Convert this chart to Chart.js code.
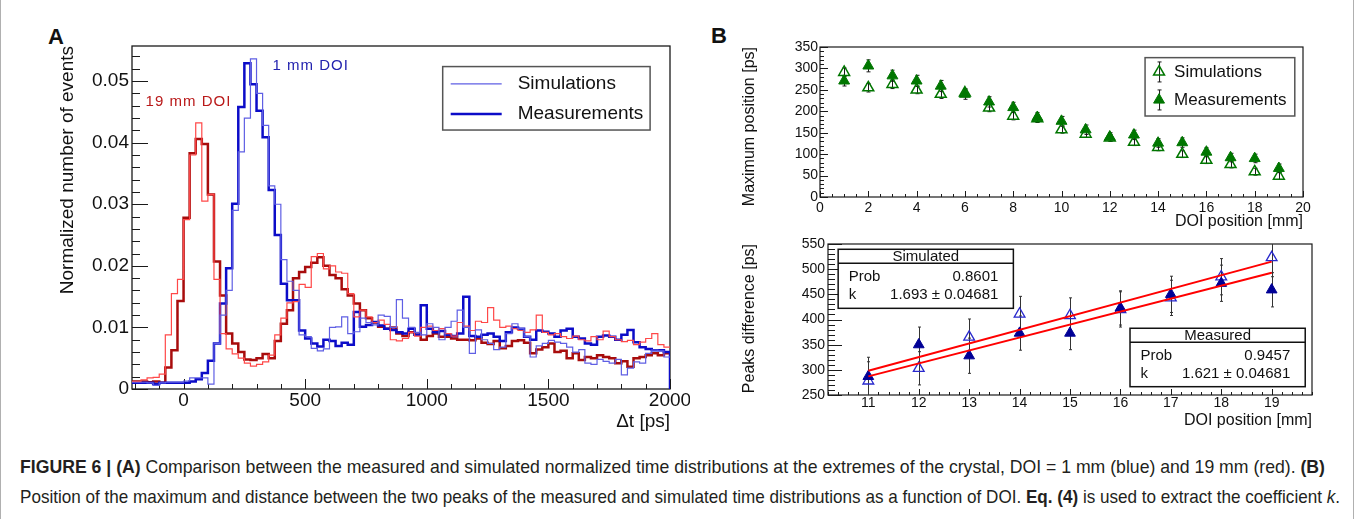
<!DOCTYPE html>
<html>
<head>
<meta charset="utf-8">
<script src="https://cdn.jsdelivr.net/npm/chart.js@4.4.1/dist/chart.umd.min.js"></script>
<style>
  html, body { margin: 0; padding: 0; background: #fff; }
  #page { position: relative; width: 1354px; height: 519px; overflow: hidden; background: #fff;
          font-family: "Liberation Sans", Arial, sans-serif; color: #111; }
  .edge { position: absolute; top: 0; width: 1px; height: 519px; background: #b0b0b0; }
  canvas { position: absolute; }
  .panel { position: absolute; font-weight: bold; font-size: 22px; line-height: 22px; }
  .cap { position: absolute; left: 20px; white-space: nowrap; font-size: 18.5px; line-height: 20px;
         transform-origin: 0 50%; color: #231f20; }
</style>
</head>
<body>
<div id="page">
  <div class="edge" style="left:0"></div>
  <div class="edge" style="left:1353px"></div>
  <div class="panel" style="left:48px;top:26px">A</div>
  <div class="panel" style="left:711px;top:25px">B</div>
  <canvas id="histA" width="650" height="420" style="left:40px;top:20px;width:650px;height:420px"></canvas>
  <canvas id="maxB" width="640" height="215" style="left:700px;top:20px;width:640px;height:215px"></canvas>
  <canvas id="diffB" width="640" height="205" style="left:700px;top:232px;width:640px;height:205px"></canvas>
  <div class="cap" data-w="1305" style="top:457px"><b>FIGURE 6 | (A)</b> Comparison between the measured and simulated normalized time distributions at the extremes of the crystal, DOI = 1 mm (blue) and 19 mm (red). <b>(B)</b></div>
  <div class="cap" data-w="1320" style="top:487px">Position of the maximum and distance between the two peaks of the measured and simulated time distributions as a function of DOI. <b>Eq. (4)</b> is used to extract the coefficient <i>k</i>.</div>
</div>
<script>
// ---- panel A: time distributions, 25 ps bins starting at -225 ps ----
const BIN_START = -225;
const BIN_WIDTH = 25;
const AXIS_END = 2000;
const ticksA_x = [0, 500, 1000, 1500, 2000];
const ticksA_y = [0, 0.01, 0.02, 0.03, 0.04, 0.05];

const measured19 = [0.0012, 0.0012, 0.0012, 0.0011, 0.0012, 0.0010, 0.0035, 0.0063, 0.0143, 0.0278,
  0.0383, 0.0406, 0.0398, 0.0316, 0.0207, 0.0152, 0.0090, 0.0074, 0.0060, 0.0048,
  0.0047, 0.0050, 0.0057, 0.0050, 0.0078, 0.0106, 0.0128, 0.0180, 0.0190, 0.0198,
  0.0205, 0.0214, 0.0200, 0.0185, 0.0180, 0.0162, 0.0152, 0.0139, 0.0128, 0.0115,
  0.0108, 0.0101, 0.0098, 0.0100, 0.0090, 0.0086, 0.0092, 0.0088, 0.0080, 0.0086,
  0.0090, 0.0085, 0.0085, 0.0082, 0.0080, 0.0080, 0.0079, 0.0082, 0.0075, 0.0073,
  0.0078, 0.0066, 0.0070, 0.0078, 0.0079, 0.0075, 0.0058, 0.0064, 0.0068, 0.0074,
  0.0060, 0.0062, 0.0050, 0.0058, 0.0047, 0.0052, 0.0050, 0.0055, 0.0052, 0.0050,
  0.0042, 0.0045, 0.0036, 0.0050, 0.0052, 0.0055, 0.0058, 0.0055, 0.0058];
const simulated19 = [0.0012, 0.0012, 0.0015, 0.0018, 0.0019, 0.0024, 0.0088, 0.0155, 0.0178, 0.0275,
  0.0380, 0.0432, 0.0305, 0.0316, 0.0178, 0.0090, 0.0065, 0.0057, 0.0050, 0.0042,
  0.0037, 0.0040, 0.0044, 0.0055, 0.0088, 0.0115, 0.0140, 0.0142, 0.0170, 0.0165,
  0.0215, 0.0220, 0.0195, 0.0200, 0.0190, 0.0188, 0.0155, 0.0117, 0.0128, 0.0117,
  0.0108, 0.0112, 0.0105, 0.0080, 0.0078, 0.0082, 0.0092, 0.0086, 0.0100, 0.0102,
  0.0095, 0.0098, 0.0090, 0.0086, 0.0108, 0.0102, 0.0095, 0.0110, 0.0108, 0.0132,
  0.0112, 0.0100, 0.0102, 0.0098, 0.0095, 0.0092, 0.0096, 0.0120, 0.0092, 0.0088,
  0.0090, 0.0085, 0.0082, 0.0086, 0.0080, 0.0078, 0.0085, 0.0080, 0.0094, 0.0085,
  0.0080, 0.0077, 0.0079, 0.0072, 0.0076, 0.0082, 0.0090, 0.0072, 0.0068];
const measured1 = [0.0010, 0.0010, 0.0010, 0.0010, 0.0008, 0.0010, 0.0010, 0.0010, 0.0010, 0.0010,
  0.0012, 0.0016, 0.0026, 0.0046, 0.0074, 0.0139, 0.0196, 0.0301, 0.0458, 0.0529,
  0.0495, 0.0452, 0.0409, 0.0323, 0.0250, 0.0171, 0.0144, 0.0144, 0.0095, 0.0082,
  0.0074, 0.0069, 0.0080, 0.0078, 0.0070, 0.0075, 0.0072, 0.0125, 0.0101, 0.0104,
  0.0109, 0.0103, 0.0098, 0.0096, 0.0092, 0.0090, 0.0098, 0.0088, 0.0136, 0.0098,
  0.0092, 0.0094, 0.0088, 0.0086, 0.0090, 0.0150, 0.0086, 0.0085, 0.0088, 0.0090,
  0.0085, 0.0078, 0.0092, 0.0100, 0.0098, 0.0085, 0.0080, 0.0095, 0.0093, 0.0090,
  0.0085, 0.0095, 0.0098, 0.0085, 0.0082, 0.0074, 0.0072, 0.0085, 0.0087, 0.0085,
  0.0080, 0.0088, 0.0096, 0.0076, 0.0068, 0.0065, 0.0063, 0.0063, 0.0060];
const simulated1 = [0.0011, 0.0011, 0.0011, 0.0010, 0.0006, 0.0010, 0.0011, 0.0011, 0.0011, 0.0013,
  0.0018, 0.0018, 0.0018, 0.0008, 0.0074, 0.0120, 0.0160, 0.0290, 0.0385, 0.0440,
  0.0536, 0.0480, 0.0428, 0.0330, 0.0300, 0.0210, 0.0175, 0.0160, 0.0088, 0.0085,
  0.0066, 0.0062, 0.0065, 0.0100, 0.0101, 0.0117, 0.0090, 0.0093, 0.0115, 0.0108,
  0.0104, 0.0120, 0.0118, 0.0100, 0.0145, 0.0115, 0.0100, 0.0092, 0.0088, 0.0106,
  0.0100, 0.0080, 0.0100, 0.0110, 0.0128, 0.0100, 0.0058, 0.0096, 0.0080, 0.0074,
  0.0064, 0.0068, 0.0090, 0.0106, 0.0098, 0.0085, 0.0052, 0.0070, 0.0074, 0.0079,
  0.0076, 0.0074, 0.0068, 0.0060, 0.0064, 0.0042, 0.0040, 0.0048, 0.0045, 0.0042,
  0.0048, 0.0023, 0.0034, 0.0044, 0.0042, 0.0058, 0.0063, 0.0062, 0.0052];

// ---- panel B top: position of the maximum ----
const doiTop = [1, 2, 3, 4, 5, 6, 7, 8, 9, 10, 11, 12, 13, 14, 15, 16, 17, 18, 19];
const maxSim = [291, 255, 263, 250, 240, 243, 208, 189, 183, 157, 147, 138, 128, 116, 100, 86, 76, 59, 49];
const maxMeas = [271, 306, 283, 271, 259, 240, 222, 209, 186, 177, 157, 140, 145, 126, 127, 105, 92, 90, 67];
const maxSimErr = [10, 10, 10, 9, 10, 9, 9, 9, 9, 8, 8, 8, 8, 8, 8, 8, 8, 8, 8];
const maxMeasErr = [12, 14, 13, 13, 13, 12, 12, 12, 11, 11, 11, 10, 11, 10, 11, 10, 10, 10, 10];

// ---- panel B bottom: peaks difference ----
const doiBottom = [11, 12, 13, 14, 15, 16, 17, 18, 19];
const peakSim = [278, 303, 365, 411, 408, 420, 443, 485, 523];
const peakMeas = [287, 350, 328, 373, 373, 423, 450, 472, 459];
const peakSimErr = [38, 33, 36, 35, 35, 35, 35, 36, 38];
const peakMeasErr = [38, 35, 35, 34, 33, 34, 36, 36, 34];
const fitSim = [{x: 11, y: 298}, {x: 19, y: 515}];
const fitMeas = [{x: 11, y: 287}, {x: 19, y: 493}];
const statsSim = {title: 'Simulated', prob: '0.8601', k: '1.693 \u00b1 0.04681'};
const statsMeas = {title: 'Measured', prob: '0.9457', k: '1.621 \u00b1 0.04681'};

const FONT = '"Liberation Sans", Arial, sans-serif';
Chart.defaults.font.family = FONT;
Chart.defaults.color = '#111';

function histPoints(values, dropToZero) {
  const pts = values.map((v, i) => ({x: BIN_START + i * BIN_WIDTH, y: v}));
  pts.push({x: AXIS_END, y: values[values.length - 1]});
  if (dropToZero) pts.push({x: AXIS_END, y: 0});
  return pts;
}

function histSet(label, values, color, width, order, drop) {
  return {label, data: histPoints(values, drop), borderColor: color, borderWidth: width,
          stepped: true, pointRadius: 0, fill: false, order};
}

function xy(xs, ys) {
  return xs.map((x, i) => ({x, y: ys[i]}));
}

function fixBox(w, h) {
  return s => {
    if (w !== null) s.width = w;
    if (h !== null) s.height = h;
    s.paddingLeft = s.paddingRight = s.paddingTop = s.paddingBottom = 0;
  };
}

function fixedTicks(values) {
  return s => { s.ticks = values.map(v => ({value: v})); };
}

const noGrid = {display: false, drawTicks: false};

function triangle(ctx, x, y, r) {
  ctx.beginPath();
  let a = 0;
  ctx.moveTo(x + Math.sin(a) * r, y - Math.cos(a) * r);
  a += 2 * Math.PI / 3;
  ctx.lineTo(x + Math.sin(a) * r, y - Math.cos(a) * r);
  a += 2 * Math.PI / 3;
  ctx.lineTo(x + Math.sin(a) * r, y - Math.cos(a) * r);
  ctx.closePath();
}

// ROOT style frame with inward tick marks
const rootFrame = {
  id: 'rootFrame',
  beforeDatasetsDraw(chart, args, o) {
    const {ctx, chartArea: a} = chart;
    const {x, y} = chart.scales;
    ctx.save();
    ctx.strokeStyle = '#1a1a1a';
    ctx.lineWidth = o.width;
    ctx.strokeRect(a.left, a.top, a.right - a.left, a.bottom - a.top);
    ctx.lineWidth = 1;
    const marks = (scale, step, len, vertical) => {
      const first = Math.ceil(scale.min / step - 1e-6);
      const last = Math.floor(scale.max / step + 1e-6);
      ctx.beginPath();
      for (let i = first; i <= last; i++) {
        const p = Math.round(scale.getPixelForValue(i * step)) + 0.5;
        if (vertical) { ctx.moveTo(p, a.bottom); ctx.lineTo(p, a.bottom - len); }
        else { ctx.moveTo(a.left, p); ctx.lineTo(a.left + len, p); }
      }
      ctx.stroke();
    };
    marks(x, o.xMinor, o.xMinorLen, true);
    marks(x, o.xMajor, o.xMajorLen, true);
    marks(y, o.yMinor, o.yMinorLen, false);
    marks(y, o.yMajor, o.yMajorLen, false);
    ctx.restore();
  }
};

// vertical error bars from dataset.errors
const errorBars = {
  id: 'errorBars',
  beforeDatasetsDraw(chart, args, o) {
    const {ctx, chartArea: a} = chart;
    const ys = chart.scales.y;
    ctx.save();
    ctx.beginPath();
    ctx.rect(a.left, a.top, a.right - a.left, a.bottom - a.top);
    ctx.clip();
    ctx.strokeStyle = o.color;
    ctx.lineWidth = 1;
    chart.data.datasets.forEach((ds, i) => {
      if (!ds.errors) return;
      chart.getDatasetMeta(i).data.forEach((pt, j) => {
        const v = ds.data[j].y, e = ds.errors[j];
        const top = ys.getPixelForValue(v + e), bot = ys.getPixelForValue(v - e);
        const px = Math.round(pt.x) + 0.5;
        ctx.beginPath();
        ctx.moveTo(px, top); ctx.lineTo(px, bot);
        ctx.moveTo(px - o.cap, top); ctx.lineTo(px + o.cap, top);
        ctx.moveTo(px - o.cap, bot); ctx.lineTo(px + o.cap, bot);
        ctx.stroke();
      });
    });
    ctx.restore();
  }
};

// legend and DOI labels of panel A
const histNotes = {
  id: 'histNotes',
  afterDraw(chart, args, o) {
    const {ctx, chartArea: a, scales: {x, y}} = chart;
    ctx.save();
    ctx.textBaseline = 'middle';
    o.labels.forEach(l => {
      ctx.font = '15px ' + FONT;
      ctx.letterSpacing = '1px';
      ctx.fillStyle = l.color;
      ctx.fillText(l.text, x.getPixelForValue(l.x), y.getPixelForValue(l.y));
    });
    ctx.letterSpacing = '0px';
    const w = a.right - a.left, h = a.bottom - a.top;
    const bx = a.left + o.box[0] * w, by = a.top + o.box[1] * h;
    const bw = (o.box[2] - o.box[0]) * w, bh = (o.box[3] - o.box[1]) * h;
    ctx.fillStyle = '#fff';
    ctx.fillRect(bx, by, bw, bh);
    ctx.strokeStyle = '#555';
    ctx.lineWidth = 1.5;
    ctx.strokeRect(bx, by, bw, bh);
    o.items.forEach(it => {
      const ds = chart.data.datasets[it.dataset];
      const yy = by + it.dy;
      ctx.strokeStyle = ds.borderColor;
      ctx.lineWidth = ds.borderWidth;
      ctx.beginPath(); ctx.moveTo(bx + 8, yy); ctx.lineTo(bx + 59, yy); ctx.stroke();
      ctx.fillStyle = '#111';
      ctx.font = '19px ' + FONT;
      ctx.fillText(ds.label, bx + 75, yy);
    });
    ctx.restore();
  }
};

// legend of panel B top
const markerLegend = {
  id: 'markerLegend',
  afterDraw(chart, args, o) {
    const {ctx, chartArea: a} = chart;
    const w = a.right - a.left, h = a.bottom - a.top;
    const bx = a.left + o.box[0] * w, by = a.top + o.box[1] * h;
    const bw = (o.box[2] - o.box[0]) * w, bh = (o.box[3] - o.box[1]) * h;
    ctx.save();
    ctx.fillStyle = '#fff';
    ctx.fillRect(bx, by, bw, bh);
    ctx.strokeStyle = '#555';
    ctx.lineWidth = 1.5;
    ctx.strokeRect(bx, by, bw, bh);
    ctx.textBaseline = 'middle';
    chart.data.datasets.forEach((ds, i) => {
      const mx = bx + 14, my = by + o.dy[i];
      ctx.strokeStyle = '#1a1a1a';
      ctx.lineWidth = 1;
      ctx.beginPath();
      ctx.moveTo(mx + 0.5, my - 10); ctx.lineTo(mx + 0.5, my + 10);
      ctx.moveTo(mx - 1.5, my - 10); ctx.lineTo(mx + 2.5, my - 10);
      ctx.moveTo(mx - 1.5, my + 10); ctx.lineTo(mx + 2.5, my + 10);
      ctx.stroke();
      triangle(ctx, mx, my, ds.pointRadius);
      ctx.fillStyle = ds.backgroundColor;
      ctx.fill();
      ctx.strokeStyle = ds.borderColor;
      ctx.lineWidth = ds.pointBorderWidth;
      ctx.stroke();
      ctx.fillStyle = '#111';
      ctx.font = '17px ' + FONT;
      ctx.fillText(ds.label, bx + 29, my);
    });
    ctx.restore();
  }
};

// fit statistics boxes of panel B bottom
const statBoxes = {
  id: 'statBoxes',
  afterDraw(chart, args, o) {
    const {ctx, chartArea: a} = chart;
    const w = a.right - a.left, h = a.bottom - a.top;
    ctx.save();
    o.boxes.forEach(b => {
      const bx = a.left + b.at[0] * w, by = a.top + b.at[1] * h;
      const bw = (b.at[2] - b.at[0]) * w, bh = (b.at[3] - b.at[1]) * h;
      ctx.fillStyle = '#fff';
      ctx.fillRect(bx, by, bw, bh);
      ctx.strokeStyle = '#111';
      ctx.lineWidth = 1.5;
      ctx.strokeRect(bx, by, bw, bh);
      ctx.beginPath(); ctx.moveTo(bx, by + 14); ctx.lineTo(bx + bw, by + 14); ctx.stroke();
      ctx.fillStyle = '#111';
      ctx.font = '15px ' + FONT;
      ctx.textBaseline = 'middle';
      ctx.textAlign = 'center';
      ctx.fillText(b.stats.title, bx + bw / 2, by + 7.5);
      ctx.textAlign = 'left';
      ctx.fillText('Prob', bx + 10.5, by + 28);
      ctx.fillText('k', bx + 10.5, by + 46);
      ctx.textAlign = 'right';
      ctx.fillText(b.stats.prob, bx + bw - 15, by + 28);
      ctx.fillText(b.stats.k, bx + bw - 15, by + 46);
    });
    ctx.restore();
  }
};

// ---------- chart A ----------
new Chart(document.getElementById('histA'), {
  type: 'line',
  data: {
    datasets: [
      histSet('Simulations', simulated1, 'rgb(95,95,228)', 1.2, 0, false),
      histSet('Simulations 19 mm', simulated19, 'rgb(255,72,72)', 1.2, 1, false),
      histSet('Measurements', measured1, 'rgb(12,12,200)', 2.5, 2, true),
      histSet('Measurements 19 mm', measured19, 'rgb(168,12,12)', 2.5, 3, false)
    ]
  },
  options: {
    responsive: false,
    animation: false,
    layout: {padding: {top: 26, right: 20, left: 0, bottom: 0}},
    plugins: {
      legend: {display: false},
      tooltip: {enabled: false},
      rootFrame: {width: 1.3, xMajor: 500, xMinor: 100, xMajorLen: 10, xMinorLen: 5,
                  yMajor: 0.01, yMinor: 0.002, yMajorLen: 16, yMinorLen: 8},
      histNotes: {
        box: [0.5775, 0.06, 0.963, 0.245],
        items: [{dataset: 0, dy: 17.3}, {dataset: 2, dy: 47.3}],
        labels: [{text: '1 mm DOI', x: 366, y: 0.0525, color: 'rgb(35,35,175)'},
                 {text: '19 mm DOI', x: -156, y: 0.0466, color: 'rgb(185,25,25)'}]
      }
    },
    scales: {
      x: {
        type: 'linear', min: -212, max: 2000,
        grid: noGrid, border: {display: false},
        afterBuildTicks: fixedTicks(ticksA_x),
        ticks: {autoSkip: false, maxRotation: 0, padding: 0, font: {size: 19}, color: '#111',
                callback: v => String(v)},
        title: {display: true, text: '\u0394t [ps]', align: 'end', color: '#111',
                font: {size: 19}, padding: {top: 0, bottom: 6.6}},
        afterFit: fixBox(null, 51)
      },
      y: {
        type: 'linear', min: 0, max: 0.0557,
        grid: noGrid, border: {display: false},
        afterBuildTicks: fixedTicks(ticksA_y),
        ticks: {autoSkip: false, padding: 3, font: {size: 19}, color: '#111',
                callback: v => v === 0 ? '0' : v.toFixed(2)},
        title: {display: true, text: 'Normalized number of events', align: 'end', color: '#111',
                font: {size: 19}, padding: {top: 16.6, bottom: 0}},
        afterFit: fixBox(92, null)
      }
    }
  },
  plugins: [rootFrame, histNotes]
});

// ---------- chart B top ----------
const GREEN = 'rgb(0,118,0)';
new Chart(document.getElementById('maxB'), {
  type: 'scatter',
  data: {
    datasets: [
      {label: 'Simulations', data: xy(doiTop, maxSim), errors: maxSimErr,
       pointStyle: 'triangle', pointRadius: 6.3, borderColor: GREEN, backgroundColor: 'rgba(255,255,255,0)',
       pointBorderWidth: 1.5, borderWidth: 1.5, order: 1},
      {label: 'Measurements', data: xy(doiTop, maxMeas), errors: maxMeasErr,
       pointStyle: 'triangle', pointRadius: 6.3, borderColor: GREEN, backgroundColor: GREEN,
       pointBorderWidth: 1, borderWidth: 1, order: 0}
    ]
  },
  options: {
    responsive: false,
    animation: false,
    layout: {padding: {top: 27, right: 37, left: 0, bottom: 0}},
    plugins: {
      legend: {display: false},
      tooltip: {enabled: false},
      rootFrame: {width: 1.2, xMajor: 2, xMinor: 0.5, xMajorLen: 6, xMinorLen: 3,
                  yMajor: 50, yMinor: 10, yMajorLen: 8, yMinorLen: 4},
      errorBars: {color: '#1a1a1a', cap: 2},
      markerLegend: {box: [0.673, 0.071, 0.983, 0.46], dy: [14.3, 42.3]}
    },
    scales: {
      x: {
        type: 'linear', min: 0, max: 20,
        grid: noGrid, border: {display: false},
        ticks: {stepSize: 2, autoSkip: false, maxRotation: 0, padding: 3, font: {size: 14}, color: '#111'},
        title: {display: true, text: 'DOI position [mm]', align: 'end', color: '#111',
                font: {size: 16}, padding: {top: 0, bottom: 3.4}},
        afterFit: fixBox(null, 38)
      },
      y: {
        type: 'linear', min: 0, max: 350,
        grid: noGrid, border: {display: false},
        ticks: {stepSize: 50, autoSkip: false, padding: 2, font: {size: 14}, color: '#111'},
        title: {display: true, text: 'Maximum position [ps]', align: 'end', color: '#111',
                font: {size: 16}, padding: {top: 40.4, bottom: 0}},
        afterFit: fixBox(120, null)
      }
    }
  },
  plugins: [rootFrame, errorBars, markerLegend]
});

// ---------- chart B bottom ----------
new Chart(document.getElementById('diffB'), {
  type: 'scatter',
  data: {
    datasets: [
      {label: 'Fit simulated', data: fitSim, showLine: true, pointRadius: 0,
       borderColor: 'rgb(255,0,0)', borderWidth: 2, order: 0},
      {label: 'Fit measured', data: fitMeas, showLine: true, pointRadius: 0,
       borderColor: 'rgb(255,0,0)', borderWidth: 2, order: 1},
      {label: 'Simulated', data: xy(doiBottom, peakSim), errors: peakSimErr,
       pointStyle: 'triangle', pointRadius: 6.2, borderColor: 'rgb(40,40,205)', backgroundColor: 'rgba(255,255,255,0)',
       pointBorderWidth: 1.3, borderWidth: 1.3, order: 3},
      {label: 'Measured', data: xy(doiBottom, peakMeas), errors: peakMeasErr,
       pointStyle: 'triangle', pointRadius: 6.2, borderColor: 'rgb(0,0,150)', backgroundColor: 'rgb(0,0,150)',
       pointBorderWidth: 1, borderWidth: 1, order: 2}
    ]
  },
  options: {
    responsive: false,
    animation: false,
    layout: {padding: {top: 12, right: 28, left: 0, bottom: 0}},
    plugins: {
      legend: {display: false},
      tooltip: {enabled: false},
      rootFrame: {width: 1.2, xMajor: 1, xMinor: 0.2, xMajorLen: 6, xMinorLen: 3,
                  yMajor: 50, yMinor: 10, yMajorLen: 14, yMinorLen: 7},
      errorBars: {color: '#333', cap: 1.5},
      statBoxes: {boxes: [{at: [0.021, 0.035, 0.383, 0.426], stats: statsSim},
                          {at: [0.624, 0.558, 0.986, 0.945], stats: statsMeas}]}
    },
    scales: {
      x: {
        type: 'linear', min: 10.2, max: 19.8,
        grid: noGrid, border: {display: false},
        ticks: {stepSize: 1, includeBounds: false, autoSkip: false, maxRotation: 0, padding: 0,
                font: {size: 14}, color: '#111'},
        title: {display: true, text: 'DOI position [mm]', align: 'end', color: '#111',
                font: {size: 16}, padding: {top: 0, bottom: 6.4}},
        afterFit: fixBox(null, 42)
      },
      y: {
        type: 'linear', min: 250, max: 550,
        grid: noGrid, border: {display: false},
        ticks: {stepSize: 50, autoSkip: false, padding: 3, font: {size: 14}, color: '#111'},
        title: {display: true, text: 'Peaks difference [ps]', align: 'end', color: '#111',
                font: {size: 16}, padding: {top: 40.4, bottom: 0}},
        afterFit: fixBox(128, null)
      }
    }
  },
  plugins: [rootFrame, errorBars, statBoxes]
});

// squeeze caption lines to the width of the printed figure
document.querySelectorAll('.cap').forEach(el => {
  const natural = el.getBoundingClientRect().width;
  el.style.transform = 'scaleX(' + (+el.dataset.w / natural) + ')';
});
</script>
</body>
</html>
